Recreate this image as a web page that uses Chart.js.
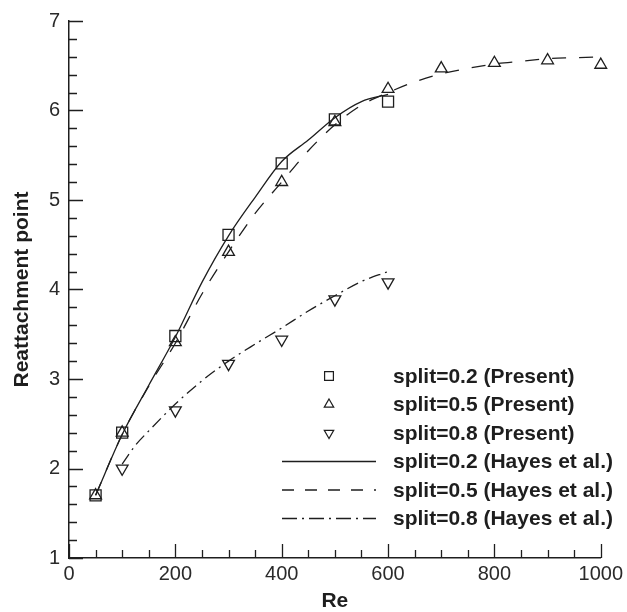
<!DOCTYPE html>
<html>
<head>
<meta charset="utf-8">
<script src="https://cdn.jsdelivr.net/npm/chart.js@4.4.1/dist/chart.umd.min.js"></script>
<style>
  html, body { margin: 0; padding: 0; background: #fff; }
  canvas { display: block; }
</style>
</head>
<body>
<canvas id="reChart" width="627" height="612"></canvas>
<script>
// Present results (markers)
const rePresent02 = [50, 100, 200, 300, 400, 500, 600];
const present02 = [1.70, 2.40, 3.48, 4.61, 5.41, 5.90, 6.10];

const rePresent05 = [50, 100, 200, 300, 400, 500, 600, 700, 800, 900, 1000];
const present05 = [1.70, 2.40, 3.41, 4.42, 5.20, 5.87, 6.24, 6.47, 6.53, 6.56, 6.51];

const rePresent08 = [100, 200, 300, 400, 500, 600];
const present08 = [2.00, 2.65, 3.17, 3.44, 3.89, 4.08];

// Hayes et al. (lines)
const reHayes02 = [50, 100, 150, 200, 250, 300, 350, 400, 450, 500, 550, 600];
const hayes02 = [1.70, 2.38, 2.93, 3.47, 4.08, 4.60, 5.03, 5.43, 5.67, 5.92, 6.10, 6.18];

const reHayes05 = [50, 100, 150, 200, 250, 300, 350, 400, 450, 500, 550, 600, 650, 700, 750, 800, 850, 900, 950, 1000];
const hayes05 = [1.70, 2.38, 2.92, 3.40, 3.95, 4.42, 4.85, 5.20, 5.55, 5.84, 6.06, 6.20, 6.32, 6.41, 6.47, 6.52, 6.55, 6.58, 6.59, 6.60];

const reHayes08 = [100, 125, 150, 200, 250, 300, 350, 400, 450, 500, 550, 600];
const hayes08 = [2.05, 2.26, 2.42, 2.72, 2.98, 3.20, 3.39, 3.57, 3.76, 3.93, 4.09, 4.20];

// axis ticks
const xMajorTicks = [0, 200, 400, 600, 800, 1000];
const xMinorStep = 50;
const yMajorTicks = [1, 2, 3, 4, 5, 6, 7];
const yMinorStep = 0.2;

const ink = "#1e1e1e";
const fontFamily = "'Liberation Sans', Arial, Helvetica, sans-serif";

function pairs(xs, ys) {
  return xs.map((x, i) => ({ x: x, y: ys[i] }));
}

// draws ticks on the inside of the axes, like the original figure
const inwardTicks = {
  id: "inwardTicks",
  afterDraw(chart) {
    const ctx = chart.ctx;
    const xs = chart.scales.x;
    const ys = chart.scales.y;
    const left = chart.chartArea.left;
    const bottom = chart.chartArea.bottom;
    ctx.save();
    ctx.strokeStyle = ink;
    ctx.lineWidth = 1.3;
    ctx.beginPath();
    for (let v = xs.min; v <= xs.max + 0.001; v += xMinorStep) {
      const px = Math.round(xs.getPixelForValue(v)) + 0.5;
      const len = xMajorTicks.includes(Math.round(v)) ? 14 : 8;
      ctx.moveTo(px, bottom);
      ctx.lineTo(px, bottom - len);
    }
    for (let v = ys.min; v <= ys.max + 0.001; v += yMinorStep) {
      const py = Math.round(ys.getPixelForValue(v)) + 0.5;
      const major = yMajorTicks.some(t => Math.abs(t - v) < 0.01);
      ctx.moveTo(left, py);
      ctx.lineTo(left + (major ? 14 : 8), py);
    }
    ctx.stroke();
    ctx.restore();
  }
};

// legend drawn inside the plot, bottom right
const insideLegend = {
  id: "insideLegend",
  afterDraw(chart, args, opts) {
    const ctx = chart.ctx;
    ctx.save();
    chart.data.datasets.forEach((ds, i) => {
      const y = opts.top + i * opts.rowGap;
      ctx.strokeStyle = ink;
      if (ds.showLine) {
        ctx.lineWidth = 1.3;
        ctx.setLineDash(ds.legendDash || []);
        ctx.beginPath();
        ctx.moveTo(opts.lineFrom, y);
        ctx.lineTo(opts.lineTo, y);
        ctx.stroke();
        ctx.setLineDash([]);
      } else {
        ctx.lineWidth = 1.2;
        ctx.fillStyle = "rgba(0,0,0,0)";
        Chart.helpers.drawPoint(ctx, {
          pointStyle: ds.pointStyle,
          radius: ds.pointRadius * 0.8,
          rotation: ds.pointRotation || 0,
          borderWidth: 1.2
        }, opts.symbolX, y);
      }
      ctx.fillStyle = ink;
      ctx.font = "bold 21px " + fontFamily;
      ctx.textAlign = "left";
      ctx.textBaseline = "middle";
      ctx.fillText(ds.label, opts.textX, y + 1);
    });
    ctx.restore();
  }
};

const markerBase = {
  showLine: false,
  clip: false,
  borderColor: ink,
  backgroundColor: "rgba(0,0,0,0)",
  pointBorderColor: ink,
  pointBackgroundColor: "rgba(0,0,0,0)",
  pointBorderWidth: 1.3,
  pointHoverRadius: 7
};

const lineBase = {
  showLine: true,
  clip: false,
  borderColor: ink,
  borderWidth: 1.3,
  pointRadius: 0,
  pointHoverRadius: 0,
  cubicInterpolationMode: "monotone",
  fill: false
};

new Chart(document.getElementById("reChart"), {
  type: "scatter",
  data: {
    datasets: [
      Object.assign({}, markerBase, {
        label: "split=0.2 (Present)",
        data: pairs(rePresent02, present02),
        pointStyle: "rect",
        pointRadius: 7.8
      }),
      Object.assign({}, markerBase, {
        label: "split=0.5 (Present)",
        data: pairs(rePresent05, present05),
        pointStyle: "triangle",
        pointRadius: 6.8
      }),
      Object.assign({}, markerBase, {
        label: "split=0.8 (Present)",
        data: pairs(rePresent08, present08),
        pointStyle: "triangle",
        pointRotation: 180,
        pointRadius: 6.8
      }),
      Object.assign({}, lineBase, {
        label: "split=0.2 (Hayes et al.)",
        data: pairs(reHayes02, hayes02),
        borderDash: [],
        legendDash: []
      }),
      Object.assign({}, lineBase, {
        label: "split=0.5 (Hayes et al.)",
        data: pairs(reHayes05, hayes05),
        borderDash: [14, 13],
        legendDash: [12, 11]
      }),
      Object.assign({}, lineBase, {
        label: "split=0.8 (Hayes et al.)",
        data: pairs(reHayes08, hayes08),
        borderDash: [12, 5, 2, 5],
        legendDash: [15, 5, 2, 5]
      })
    ]
  },
  options: {
    responsive: false,
    animation: false,
    events: [],
    layout: {
      autoPadding: false,
      padding: { top: 18, right: 12, left: 0, bottom: 0 }
    },
    plugins: {
      legend: { display: false },
      tooltip: { enabled: false },
      insideLegend: {
        top: 376,
        rowGap: 28.5,
        symbolX: 329,
        lineFrom: 282,
        lineTo: 376,
        textX: 393
      }
    },
    scales: {
      x: {
        type: "linear",
        min: 0,
        max: 1000,
        afterFit: (s) => { s.height = 54; },
        grid: { display: false, drawTicks: false },
        border: { display: true, color: ink, width: 1.5 },
        ticks: {
          stepSize: 200,
          padding: 4,
          maxRotation: 0,
          color: "#2a2a2a",
          font: { family: fontFamily, size: 20 },
          callback: (v) => String(v)
        },
        title: {
          display: true,
          text: "Re",
          color: ink,
          padding: { top: 0, bottom: 0 },
          font: { family: fontFamily, size: 21, weight: "bold", lineHeight: 1 }
        }
      },
      y: {
        type: "linear",
        min: 1,
        max: 7,
        afterFit: (s) => { s.width = 69; },
        grid: { display: false, drawTicks: false },
        border: { display: true, color: ink, width: 1.5 },
        ticks: {
          stepSize: 1,
          padding: 9,
          color: "#2a2a2a",
          font: { family: fontFamily, size: 20 }
        },
        title: {
          display: true,
          text: "Reattachment point",
          color: ink,
          padding: { top: 12, bottom: 0 },
          font: { family: fontFamily, size: 21, weight: "bold", lineHeight: 1 }
        }
      }
    }
  },
  plugins: [inwardTicks, insideLegend]
});
</script>
</body>
</html>
